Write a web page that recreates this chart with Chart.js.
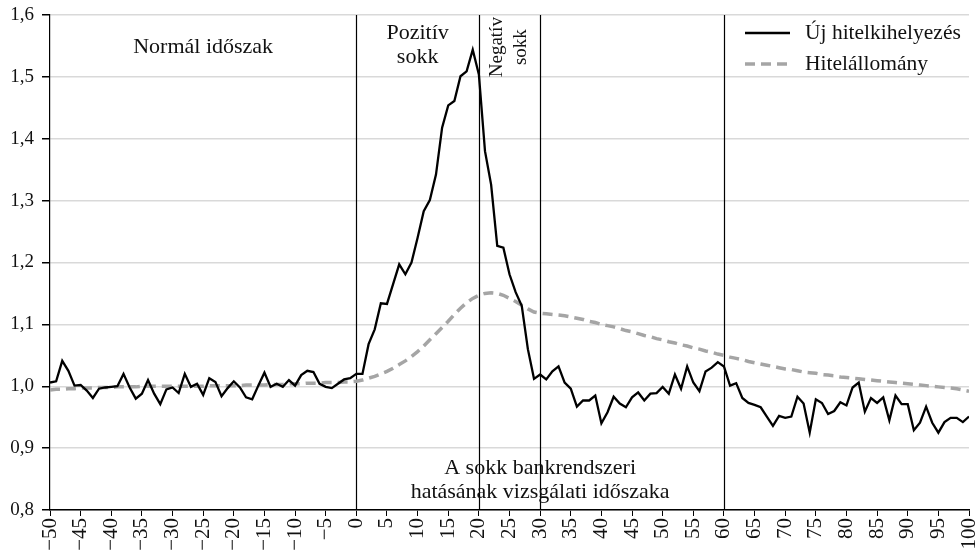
<!DOCTYPE html>
<html>
<head>
<meta charset="utf-8">
<script src="https://cdn.jsdelivr.net/npm/chart.js@4.4.0/dist/chart.umd.min.js"></script>
<style>
html, body { margin: 0; padding: 0; background: #fff; }
</style>
</head>
<body>
<canvas id="chart" width="977" height="559"></canvas>
<script>
// Időszakok (hónapok a sokkhoz képest): -50 ... 100
const periods = [];
for (let t = -50; t <= 100; t++) periods.push(t);

// Új hitelkihelyezés (-50 ... 100)
const newLending = [
  1.006, 1.008, 1.041, 1.025, 1.001, 1.002, 0.993, 0.981, 0.996, 0.998,
  0.999, 1.000, 1.020, 0.998, 0.980, 0.988, 1.010, 0.988, 0.971, 0.995,
  0.998, 0.989, 1.020, 0.999, 1.004, 0.986, 1.013, 1.007, 0.984, 0.997,
  1.008, 0.998, 0.982, 0.979, 1.001, 1.022, 0.999, 1.004, 0.999, 1.010,
  1.001, 1.018, 1.025, 1.023, 1.004, 0.999, 0.997, 1.004, 1.011, 1.013,
  1.020, 1.020, 1.068, 1.092, 1.134, 1.133, 1.165, 1.197, 1.181, 1.200,
  1.240, 1.283, 1.301, 1.342, 1.418, 1.454, 1.461, 1.501, 1.509, 1.544,
  1.504, 1.380, 1.326, 1.227, 1.224, 1.181, 1.152, 1.130, 1.060, 1.012,
  1.019, 1.011, 1.024, 1.032, 1.006, 0.996, 0.967, 0.977, 0.977, 0.985,
  0.940, 0.958, 0.983, 0.972, 0.966, 0.982, 0.990, 0.977, 0.988, 0.989,
  0.999, 0.988, 1.019, 0.996, 1.032, 1.006, 0.992, 1.024, 1.030, 1.039,
  1.032, 1.001, 1.005, 0.981, 0.973, 0.970, 0.966, 0.951, 0.936, 0.952,
  0.949, 0.951, 0.983, 0.972, 0.925, 0.979, 0.973, 0.955, 0.960, 0.974,
  0.969, 0.998, 1.006, 0.959, 0.981, 0.973, 0.982, 0.945, 0.985, 0.971,
  0.971, 0.929, 0.941, 0.967, 0.941, 0.925, 0.942, 0.949, 0.949, 0.942,
  0.951
];

// Hitelállomány (-50 ... 100)
const loanStock = [
  0.994, 0.995, 0.995, 0.996, 0.996, 0.997, 0.997, 0.997, 0.998, 0.998,
  0.998, 0.999, 0.999, 0.999, 0.999, 1.000, 1.000, 1.000, 1.000, 1.000,
  1.000, 1.000, 1.000, 1.000, 1.000, 1.000, 1.001, 1.001, 1.001, 1.001,
  1.001, 1.001, 1.002, 1.002, 1.002, 1.002, 1.003, 1.003, 1.003, 1.004,
  1.004, 1.004, 1.005, 1.005, 1.005, 1.006, 1.006, 1.006, 1.007, 1.007,
  1.008, 1.010, 1.013, 1.016, 1.020, 1.024, 1.029, 1.035, 1.041, 1.048,
  1.056, 1.065, 1.075, 1.085, 1.095, 1.105, 1.116, 1.126, 1.135, 1.142,
  1.147, 1.150, 1.151, 1.150, 1.147, 1.142, 1.137, 1.131, 1.125, 1.120,
  1.118, 1.117, 1.116, 1.115, 1.114, 1.112, 1.110, 1.108, 1.105, 1.103,
  1.100, 1.098, 1.096, 1.093, 1.090, 1.088, 1.085, 1.082, 1.080, 1.077,
  1.075, 1.072, 1.070, 1.067, 1.065, 1.062, 1.060, 1.057, 1.055, 1.052,
  1.050, 1.047, 1.045, 1.043, 1.040, 1.038, 1.036, 1.034, 1.032, 1.030,
  1.028, 1.027, 1.025, 1.023, 1.022, 1.021, 1.019, 1.018, 1.017, 1.015,
  1.014, 1.013, 1.012, 1.011, 1.010, 1.009, 1.008, 1.007, 1.006, 1.005,
  1.004, 1.003, 1.002, 1.001, 1.000, 0.999, 0.998, 0.997, 0.996, 0.994,
  0.992
];

// Függőleges elválasztó vonalak
const phaseLines = [0, 20, 30, 60];

const serif = '"Liberation Serif", "DejaVu Serif", serif';

// Feliratok a diagramon
const phaseLabels = [
  { text: 'Normál időszak', x: -25, y: 1.548 },
  { text: 'Pozitív', x: 10, y: 1.571 },
  { text: 'sokk', x: 10, y: 1.531 },
  { text: 'A sokk bankrendszeri', x: 30, y: 0.868 },
  { text: 'hatásának vizsgálati időszaka', x: 30, y: 0.828 }
];
const rotatedLabels = [
  { text: 'Negatív', x: 23.0, y: 1.548 },
  { text: 'sokk', x: 26.9, y: 1.548 }
];

const toPoints = arr => periods.map((t, i) => ({ x: t, y: arr[i] }));

const phasePlugin = {
  id: 'phases',
  beforeDatasetsDraw(chart) {
    const { ctx, chartArea, scales: { x } } = chart;
    ctx.save();
    ctx.strokeStyle = '#000';
    ctx.lineWidth = 1.2;
    phaseLines.forEach(v => {
      const px = Math.round(x.getPixelForValue(v)) + 0.5;
      ctx.beginPath();
      ctx.moveTo(px, chartArea.top);
      ctx.lineTo(px, chartArea.bottom);
      ctx.stroke();
    });
    ctx.restore();
  },
  afterDatasetsDraw(chart) {
    const { ctx, chartArea, scales: { x, y } } = chart;
    ctx.save();
    ctx.fillStyle = '#111';
    ctx.font = '22px ' + serif;
    ctx.textAlign = 'center';
    ctx.textBaseline = 'middle';
    phaseLabels.forEach(l => {
      ctx.fillText(l.text, x.getPixelForValue(l.x), y.getPixelForValue(l.y));
    });
    ctx.font = '19px ' + serif;
    rotatedLabels.forEach(l => {
      ctx.save();
      ctx.translate(x.getPixelForValue(l.x), y.getPixelForValue(l.y));
      ctx.rotate(-Math.PI / 2);
      ctx.fillText(l.text, 0, 0);
      ctx.restore();
    });

    // jelmagyarázat
    const ds = chart.data.datasets;
    const lx = chartArea.right - 224;
    ctx.font = '21.5px ' + serif;
    [33, 64].forEach((ly, i) => {
      ctx.save();
      ctx.strokeStyle = ds[i].borderColor;
      ctx.lineWidth = ds[i].borderWidth;
      ctx.setLineDash(ds[i].borderDash || []);
      ctx.beginPath();
      ctx.moveTo(lx, ly);
      ctx.lineTo(lx + 45, ly);
      ctx.stroke();
      ctx.restore();
      ctx.textAlign = 'left';
      ctx.fillText(ds[i].label, lx + 60, ly);
    });
    ctx.restore();
  }
};

new Chart(document.getElementById('chart').getContext('2d'), {
  type: 'line',
  data: {
    datasets: [{
      label: 'Új hitelkihelyezés',
      data: toPoints(newLending),
      borderColor: '#000',
      borderWidth: 2.3,
      pointRadius: 0,
      tension: 0
    }, {
      label: 'Hitelállomány',
      data: toPoints(loanStock),
      borderColor: '#a5a5a5',
      borderWidth: 3.5,
      borderDash: [10, 6],
      pointRadius: 0,
      tension: 0
    }]
  },
  options: {
    responsive: false,
    animation: false,
    devicePixelRatio: 1,
    layout: { padding: { top: 15, right: 8, left: 0, bottom: 0 } },
    plugins: {
      legend: { display: false },
      tooltip: { enabled: false }
    },
    scales: {
      x: {
        type: 'linear',
        min: -50,
        max: 100,
        afterFit: s => { s.height = 49; s.paddingLeft = 0; s.paddingRight = 0; },
        ticks: {
          stepSize: 5,
          autoSkip: false,
          maxRotation: 90,
          minRotation: 90,
          padding: 2,
          color: '#111',
          font: { family: serif, size: 21 },
          callback: v => v < 0 ? '\u2212' + Math.abs(v) : String(v)
        },
        grid: { drawOnChartArea: false, tickColor: '#000', tickLength: 6 },
        border: { color: '#000', width: 1.5 }
      },
      y: {
        min: 0.8,
        max: 1.6,
        afterFit: s => { s.width = 50; s.paddingTop = 0; s.paddingBottom = 0; },
        ticks: {
          stepSize: 0.1,
          padding: 8,
          color: '#111',
          font: { family: serif, size: 19 },
          callback: v => v.toFixed(1).replace('.', ',')
        },
        grid: { color: '#d9d9d9', lineWidth: 1.5, tickColor: '#000', tickLength: 8 },
        border: { color: '#000', width: 1.2 }
      }
    }
  },
  plugins: [phasePlugin]
});
</script>
</body>
</html>
